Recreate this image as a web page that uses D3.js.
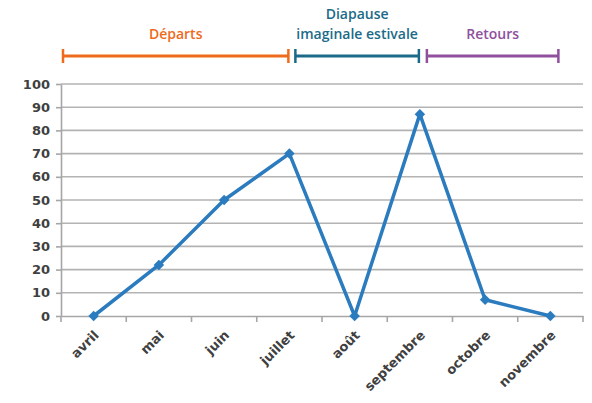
<!DOCTYPE html>
<html>
<head>
<meta charset="utf-8">
<script src="https://cdn.jsdelivr.net/npm/d3@7"></script>
<style>
	body { margin: 0; background: #fff; }
	svg { display: block; }
</style>
</head>
<body>
<div id="chart"></div>
<script>
const months = ["avril", "mai", "juin", "juillet", "août", "septembre", "octobre", "novembre"]
const values = [0, 22, 50, 70, 0, 87, 7, 0]
const yTicks = [0, 10, 20, 30, 40, 50, 60, 70, 80, 90, 100]

// periods drawn as brackets above the plot
const periodNames = [["Départs"], ["Diapause", "imaginale estivale"], ["Retours"]]
const periodFrom = [null, "juillet", "septembre"]
const periodTo = ["juillet", "septembre", "novembre"]
const periodColors = ["#ee6b1c", "#1b6b88", "#8f519d"]

const dimensions = { width: 592, height: 403 }
const margin = { top: 84, right: 9, bottom: 87, left: 61 }

const x = d3.scaleBand()
	.domain(months)
	.range([margin.left, dimensions.width - margin.right])

const y = d3.scaleLinear()
	.domain([0, 100])
	.range([dimensions.height - margin.bottom, margin.top])

const cx = d => x(d) + x.bandwidth() / 2

const svg = d3.select('#chart')
	.append('svg')
		.attr('width', dimensions.width)
		.attr('height', dimensions.height)

// grid
svg.append('g')
	.selectAll('line')
	.data(yTicks.slice(1))
	.enter().append('line')
		.attr('x1', margin.left)
		.attr('x2', dimensions.width - margin.right)
		.attr('y1', d => y(d))
		.attr('y2', d => y(d))
		.attr('stroke', '#b3b3b3')
		.attr('stroke-width', 1.6)

// y axis
const gy = svg.append('g')
	.attr('transform', `translate(${margin.left},0)`)
	.call(d3.axisLeft(y).tickValues(yTicks).tickSize(5).tickSizeOuter(0).tickPadding(6))
gy.select('.domain').attr('stroke', '#a6a6a6').attr('stroke-width', 1.6)
gy.selectAll('.tick line').attr('stroke', '#a6a6a6').attr('stroke-width', 1.6)
gy.selectAll('text')
	.attr('fill', '#404040')
	.style('font-family', 'DejaVu Sans')
	.style('font-size', '13px')
	.style('font-weight', 'bold')

// x axis
const gx = svg.append('g')
	.attr('transform', `translate(0,${y(0)})`)
	.call(d3.axisBottom(x).tickSize(0).tickSizeOuter(0))
gx.select('.domain').attr('stroke', '#a6a6a6').attr('stroke-width', 1.6)
gx.selectAll('.tick text')
	.attr('fill', '#404040')
	.style('font-family', 'DejaVu Sans')
	.style('font-size', '13px')
	.style('font-weight', 'bold')
	.attr('text-anchor', 'end')
	.attr('dy', null)
	.attr('y', 0)
	.attr('transform', 'translate(6,20) rotate(-45)')

// separator ticks between months
svg.append('g')
	.selectAll('line')
	.data(months.concat(['end']))
	.enter().append('line')
		.attr('x1', (d, i) => margin.left + i * x.step())
		.attr('x2', (d, i) => margin.left + i * x.step())
		.attr('y1', y(0))
		.attr('y2', y(0) + 6)
		.attr('stroke', '#a6a6a6')
		.attr('stroke-width', 1.6)

// line
const line = d3.line()
	.x((d, i) => cx(months[i]))
	.y(d => y(d))

svg.append('path')
	.datum(values)
	.attr('fill', 'none')
	.attr('stroke', '#2b7bbf')
	.attr('stroke-width', 3.5)
	.attr('stroke-linejoin', 'round')
	.attr('d', line)

svg.append('g')
	.selectAll('path')
	.data(values)
	.enter().append('path')
		.attr('d', d3.symbol().type(d3.symbolDiamond2).size(70))
		.attr('transform', (d, i) => `translate(${cx(months[i])},${y(d)})`)
		.attr('fill', '#2b7bbf')

// period brackets
const bracketY = 56
const starts = periodFrom.map((d, i) => d === null ? margin.left + 2 : cx(d) + 5 + i)
const ends = periodTo.map((d, i) => i === 2 ? cx(d) + 8 : cx(d) - 1)

periodNames.forEach((lines, i) => {
	const g = svg.append('g')
		.attr('stroke', periodColors[i])
		.attr('fill', periodColors[i])
	g.append('line')
		.attr('x1', starts[i]).attr('x2', ends[i])
		.attr('y1', bracketY).attr('y2', bracketY)
		.attr('stroke-width', 3)
	g.selectAll('line.cap')
		.data([starts[i], ends[i]])
		.enter().append('line')
			.attr('class', 'cap')
			.attr('x1', d => d).attr('x2', d => d)
			.attr('y1', bracketY - 7).attr('y2', bracketY + 7)
			.attr('stroke-width', 2.5)
	g.append('text')
		.attr('stroke', 'none')
		.attr('text-anchor', 'middle')
		.style('font-family', 'Open Sans')
		.style('font-size', '14px')
		.style('font-weight', 600)
		.selectAll('tspan')
		.data(lines)
		.enter().append('tspan')
			.attr('x', (starts[i] + ends[i]) / 2)
			.attr('y', (d, j) => 39 - (lines.length - 1 - j) * 20)
			.text(d => d)
})
</script>
</body>
</html>
